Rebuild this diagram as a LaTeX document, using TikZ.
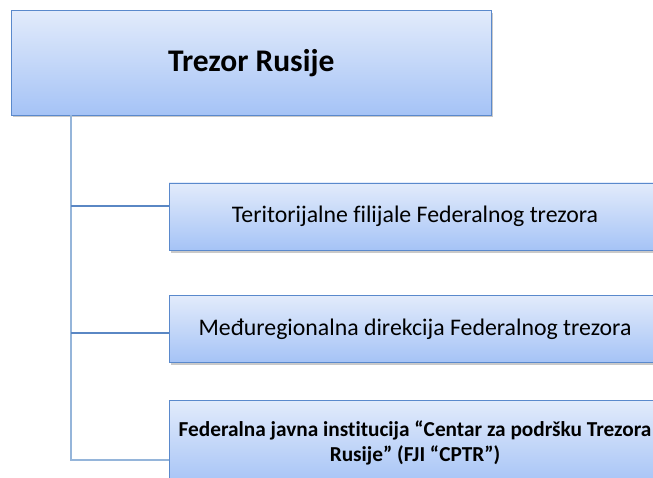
\documentclass[tikz,border=0pt]{standalone}
\usepackage{fontspec}
\setmainfont{Carlito}[Ligatures=NoCommon]
\usetikzlibrary{shadows}
\definecolor{boxtop}{HTML}{E2EBFB}
\definecolor{boxbot}{HTML}{A5C3F6}
\definecolor{boxline}{HTML}{5A89CC}
\definecolor{spinecol}{HTML}{95B5DA}
\definecolor{branchcol}{HTML}{5A87C4}
\begin{document}
\begin{tikzpicture}[x=1pt,y=-1pt,
  orgbox/.style={draw=boxline, line width=0.9pt, top color=boxtop, bottom color=boxbot,
    inner sep=0pt, align=center, text=black,
    drop shadow={shadow xshift=1.5pt, shadow yshift=-2.5pt, opacity=0.3, fill=black!70}},
  spine/.style={draw=spinecol, line width=1.6pt},
  branch/.style={draw=branchcol, line width=1.2pt}]
\useasboundingbox (0,0) rectangle (653,478);
\clip (0,0) rectangle (653,478);
\node[orgbox, minimum width=479.5pt, minimum height=104.5pt, font=\bfseries\fontsize{31.5}{36}\selectfont]
  (top) at (251.25,62.75) {Trezor Rusije};
\node[orgbox, minimum width=492pt, minimum height=67.5pt, font=\fontsize{23.8}{28}\selectfont]
  (b1) at (415,216.75) {Teritorijalne filijale Federalnog trezora};
\node[orgbox, minimum width=492pt, minimum height=67pt, font=\fontsize{23.8}{28}\selectfont]
  (b2) at (415,329) {Međuregionalna direkcija Federalnog trezora};
\node[orgbox, minimum width=492pt, minimum height=85pt, font=\bfseries\fontsize{21.3}{24.5}\selectfont]
  (b3) at (415,443) {Federalna javna institucija “Centar za podršku Trezora\\Rusije” (FJI “CPTR”)};
\coordinate (s0) at (71,115);
\coordinate (j1) at (71,206);
\coordinate (j2) at (71,333);
\coordinate (j3) at (71,460);
\draw[spine] (s0) -- (j3) -- (j3 -| b3.west);
\draw[branch] (j1) -- (j1 -| b1.west);
\draw[branch] (j2) -- (j2 -| b2.west);
\end{tikzpicture}
\end{document}
